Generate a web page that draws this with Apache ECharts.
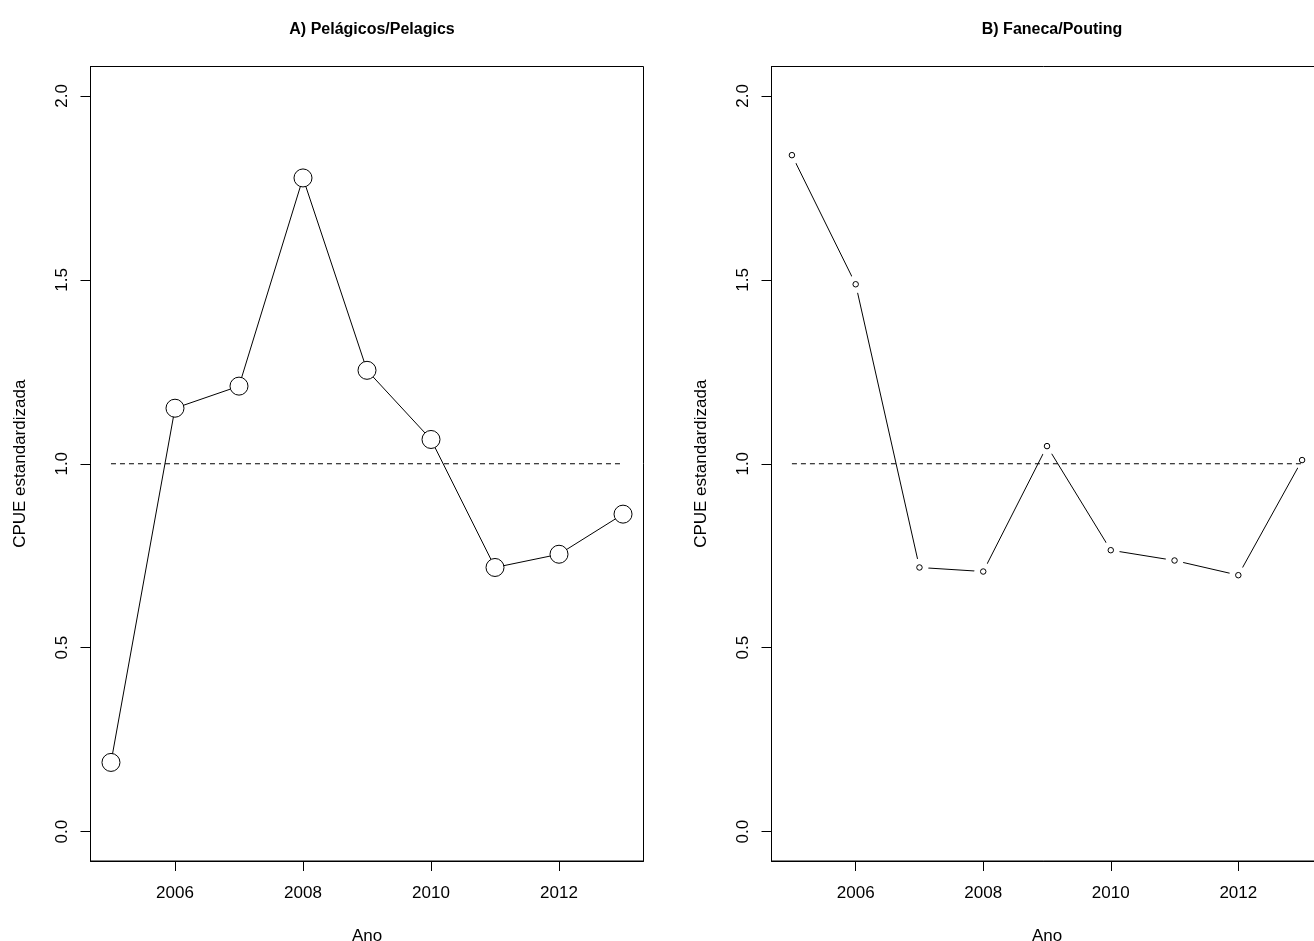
<!DOCTYPE html>
<html>
<head>
<meta charset="utf-8">
<title>CPUE estandardizada</title>
<script src="https://cdn.jsdelivr.net/npm/echarts@6/dist/echarts.min.js"></script>
<style>
  html, body { margin: 0; padding: 0; background: #ffffff; }
  #chart { width: 1314px; height: 941px; }
</style>
</head>
<body>
<div id="chart"></div>
<script>
// Standardised CPUE per year, two fleets
const years = [2005, 2006, 2007, 2008, 2009, 2010, 2011, 2012, 2013];
const pelagicos = [0.188, 1.151, 1.211, 1.777, 1.254, 1.066, 0.718, 0.754, 0.863];
const faneca = [1.839, 1.488, 0.718, 0.707, 1.048, 0.765, 0.737, 0.697, 1.010];
const referenceLevel = 1.0;

const xTicks = [2006, 2008, 2010, 2012];
const yTicks = [0, 0.5, 1, 1.5, 2];
const yTickLabels = ['0.0', '0.5', '1.0', '1.5', '2.0'];
const panelTitles = ['A) Pelágicos/Pelagics', 'B) Faneca/Pouting'];
const xName = 'Ano';
const yName = 'CPUE estandardizada';

// R-style axis ranges: 4% padding around the data/limits
const xMin = years[0] - 0.04 * (years[years.length - 1] - years[0]);
const xMax = years[years.length - 1] + 0.04 * (years[years.length - 1] - years[0]);
const yMin = 0 - 0.04 * 2;
const yMax = 2 + 0.04 * 2;

const FONT = '"Liberation Sans", Arial, sans-serif';
const ink = '#000000';

const pairs = (xs, ys) => xs.map((x, i) => [x, ys[i]]);
const refLine = [[years[0], referenceLevel], [years[years.length - 1], referenceLevel]];

const grids = [
  { left: 90.5, top: 66.5, width: 553, height: 794.5, outerBoundsMode: 'none', containLabel: false,
    show: true, borderColor: ink, borderWidth: 1, backgroundColor: 'transparent' },
  { left: 771.5, top: 66.5, width: 551, height: 794.5, outerBoundsMode: 'none', containLabel: false,
    show: true, borderColor: ink, borderWidth: 1, backgroundColor: 'transparent' }
];

function makeX(gi) {
  return {
    type: 'value', gridIndex: gi, min: xMin, max: xMax,
    name: xName, nameLocation: 'middle', nameGap: 67,
    nameTextStyle: { fontFamily: FONT, fontSize: 17, color: ink },
    axisLine: { show: true, onZero: false, lineStyle: { color: ink, width: 1 } },
    axisTick: { show: true, inside: false, length: 10, customValues: xTicks, lineStyle: { color: ink } },
    axisLabel: { customValues: xTicks, margin: 24, fontFamily: FONT, fontSize: 17, color: ink, formatter: v => String(v) },
    splitLine: { show: false }
  };
}

function makeY(gi) {
  return {
    type: 'value', gridIndex: gi, min: yMin, max: yMax,
    name: yName, nameLocation: 'middle', nameGap: 62, nameRotate: 90,
    nameTextStyle: { fontFamily: FONT, fontSize: 17, color: ink },
    axisLine: { show: true, onZero: false, lineStyle: { color: ink, width: 1 } },
    axisTick: { show: true, inside: false, length: 10, customValues: yTicks, lineStyle: { color: ink } },
    axisLabel: {
      customValues: yTicks, rotate: 90, margin: 20, fontFamily: FONT, fontSize: 17, color: ink,
      formatter: v => yTickLabels[yTicks.indexOf(+v.toFixed(2))] ?? v.toFixed(1)
    },
    splitLine: { show: false }
  };
}

const option = {
  backgroundColor: '#ffffff',
  animation: false,
  title: panelTitles.map((t, i) => ({
    text: t,
    left: i === 0 ? 367 : 1047,
    top: 17,
    textAlign: 'center',
    textStyle: { fontFamily: FONT, fontSize: 16, fontWeight: 'bold', color: ink }
  })),
  grid: grids,
  xAxis: [makeX(0), makeX(1)],
  yAxis: [makeY(0), makeY(1)],
  series: [
    // Panel A: reference level, then line with open circles
    {
      type: 'line', xAxisIndex: 0, yAxisIndex: 0, data: refLine, symbol: 'none', z: 2,
      lineStyle: { color: ink, width: 1, type: [5, 4] }, silent: true
    },
    {
      type: 'line', xAxisIndex: 0, yAxisIndex: 0, data: pairs(years, pelagicos),
      symbol: 'circle', symbolSize: 18, showAllSymbol: true, z: 3,
      lineStyle: { color: ink, width: 1 },
      itemStyle: { color: '#ffffff', borderColor: ink, borderWidth: 1, opacity: 1 }
    },
    // Panel B: lines broken around points (R type "b"); white discs cut the gaps
    {
      type: 'line', xAxisIndex: 1, yAxisIndex: 1, data: pairs(years, faneca),
      symbol: 'circle', symbolSize: 18, showAllSymbol: true, z: 2, silent: true,
      lineStyle: { color: ink, width: 1 },
      itemStyle: { color: '#ffffff', borderColor: '#ffffff', borderWidth: 0, opacity: 1 }
    },
    {
      type: 'line', xAxisIndex: 1, yAxisIndex: 1, data: refLine, symbol: 'none', z: 4,
      lineStyle: { color: ink, width: 1, type: [5, 4] }, silent: true
    },
    {
      type: 'scatter', xAxisIndex: 1, yAxisIndex: 1, data: pairs(years, faneca),
      symbol: 'circle', symbolSize: 5.5, z: 5,
      itemStyle: { color: '#ffffff', borderColor: ink, borderWidth: 1, opacity: 1 }
    }
  ]
};

const chart = echarts.init(document.getElementById('chart'), null, { renderer: 'canvas' });
chart.setOption(option);
</script>
</body>
</html>
